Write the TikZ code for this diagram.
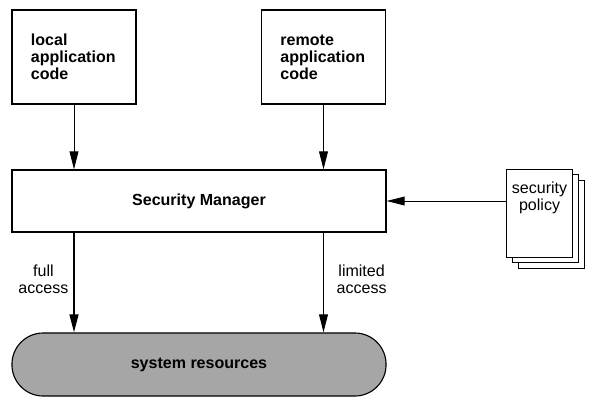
\documentclass[tikz,border=0pt]{standalone}
\usepackage{fontspec}
\setmainfont{Liberation Sans}
\usetikzlibrary{arrows.meta,positioning}
\newcommand\diagfont{\fontsize{11.4}{12.1}\selectfont}

\tikzset{
  box/.style={draw,line width=0.8pt,fill=white,inner sep=0pt},
  codebox/.style={box,minimum width=3.1cm,minimum height=2.35cm,
    text width=2.15cm,align=left,font=\diagfont\bfseries},
  widebox/.style={box,minimum width=9.35cm,minimum height=1.55cm,font=\diagfont\bfseries},
  page/.style={box,anchor=north west,minimum width=1.65cm,minimum height=2.2cm},
  arr/.style={-{Triangle[length=0.45cm,width=0.22cm]},line width=0.7pt},
  sidelabel/.style={align=center,font=\diagfont}
}

\begin{document}
\begin{tikzpicture}[x=0.025cm,y=-0.025cm]
  \useasboundingbox (0,0) rectangle (600,404);

  % application code
  \node[codebox] (local) at (74,57) {local\\application\\code};
  \node[codebox] (remote) at (323.5,57) {remote\\application\\code};

  % security manager and resources
  \node[widebox] (secmgr) at (199,201) {Security Manager};
  \node[widebox,fill=black!35,minimum height=1.575cm,rounded corners=0.78cm]
    (resources) at (199,364.5) {system resources};

  % policy pages
  \foreach \dx/\dy in {12/11,6/5} {
    \node[page] (policy\dx) at ({506+\dx},{169+\dy}) {};
  }
  \node[page] (policy) at (506,169) {};
  \node[sidelabel,below=0.2cm of policy.north] (policytext) {security\\policy};

  % connectors
  \draw[arr] (local.south) -- (local.south |- secmgr.north);
  \draw[arr] (remote.south) -- (remote.south |- secmgr.north);
  \draw[arr] (policy.west |- secmgr.east) -- (secmgr.east);
  \draw[arr,line width=1.4pt] (local.south |- secmgr.south)
    -- node[sidelabel,left,pos=0.47] {full\\access} (local.south |- resources.north);
  \draw[arr] (remote.south |- secmgr.south)
    -- node[sidelabel,right,pos=0.47,xshift=0.2cm] {limited\\access} (remote.south |- resources.north);
\end{tikzpicture}
\end{document}
